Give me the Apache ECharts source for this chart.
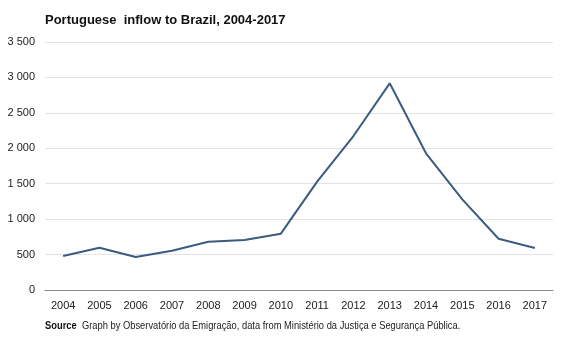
<!DOCTYPE html>
<html><head><meta charset="utf-8">
<script src="https://cdn.jsdelivr.net/npm/echarts@6/dist/echarts.min.js"></script>
<style>html,body{margin:0;padding:0;background:#fff}#c{width:567px;height:340px}</style>
</head><body><div id="c"></div>
<script>
const years = ['2004','2005','2006','2007','2008','2009','2010','2011','2012','2013','2014','2015','2016','2017'];
const inflow = [480, 597, 466, 555, 682, 706, 795, 1529, 2173, 2917, 1929, 1280, 724, 593];
const titleText = 'Portuguese  inflow to Brazil, 2004-2017';
const sourceLabel = 'Source';
const sourceText = 'Graph by Observatório da Emigração, data from Ministério da Justiça e Segurança Pública.';

const chart = echarts.init(document.getElementById('c'), null, {renderer:'canvas'});
chart.setOption({
  animation:false,
  backgroundColor:'#fff',
  title:{text:titleText,left:40,top:9,textStyle:{fontFamily:'Liberation Sans, Arial, sans-serif',fontSize:13,fontWeight:'bold',color:'#111'}},
  graphic:[{type:'text',x:45,y:321,scaleX:0.935,originX:0,style:{
    text:'{b|'+sourceLabel+'}  '+sourceText,
    fontFamily:'Liberation Sans, Arial, sans-serif',fontSize:10,fill:'#222',
    rich:{b:{fontWeight:'bold',fontSize:10,fontFamily:'Liberation Sans, Arial, sans-serif',fill:'#111'}}
  }}],
  grid:{left:45,right:14,top:42,bottom:50,containLabel:false},
  xAxis:{type:'category',data:years,boundaryGap:true,
    axisLine:{lineStyle:{color:'#888',width:1}},axisTick:{show:false},
    axisLabel:{color:'#222',fontSize:11,fontFamily:'Liberation Sans, Arial, sans-serif',margin:10}},
  yAxis:{type:'value',min:0,max:3500,interval:500,
    axisLine:{show:false},axisTick:{show:false},
    splitLine:{lineStyle:{color:'#e3e3e3',width:1}},
    axisLabel:{color:'#222',fontSize:11,fontFamily:'Liberation Sans, Arial, sans-serif',margin:10,
      formatter:v=>String(v).replace(/\B(?=(\d{3})+(?!\d))/g,' ')}},
  series:[{type:'line',data:inflow,symbol:'none',lineStyle:{color:'#3d5a80',width:2}}]
});
</script></body></html>
